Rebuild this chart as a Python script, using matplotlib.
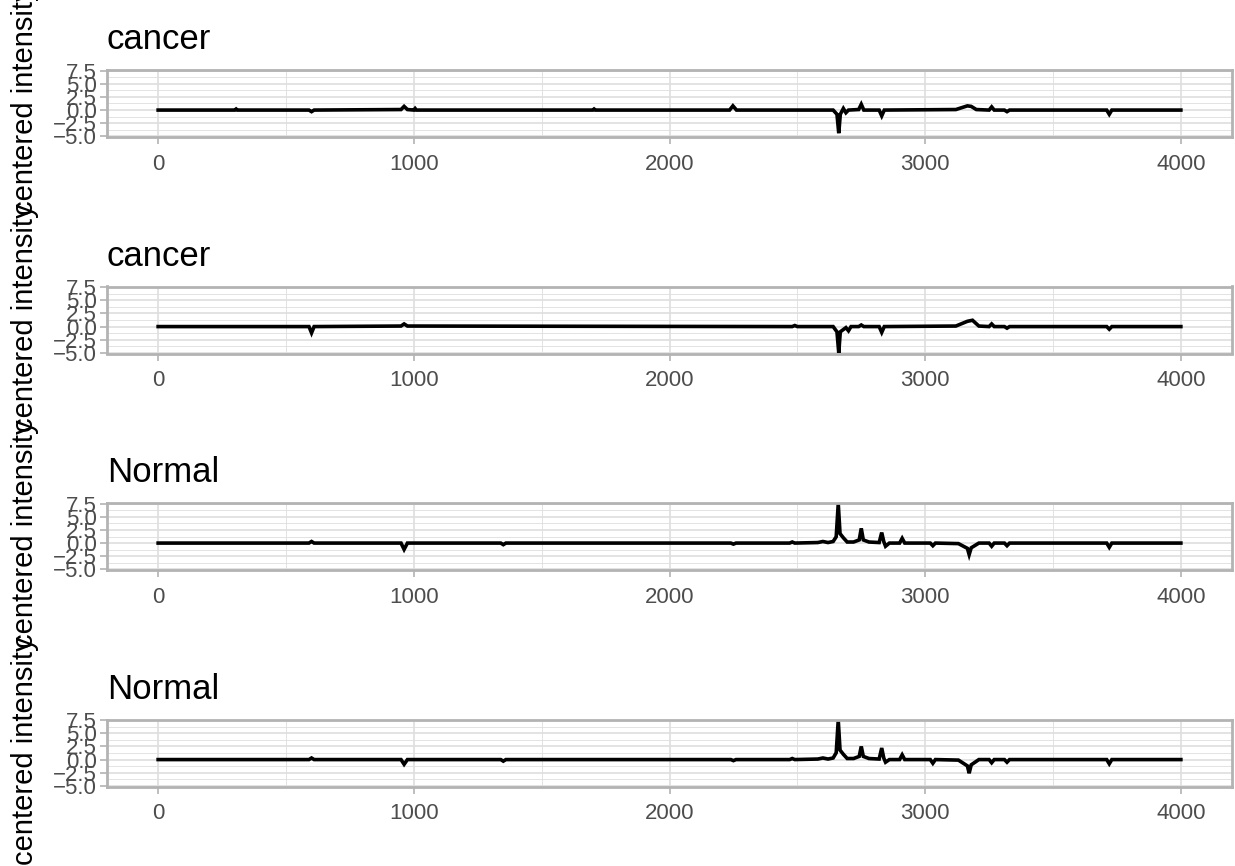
import matplotlib.pyplot as plt
from matplotlib.ticker import MultipleLocator

# titles of the four spectra
titulos = ["cancer", "cancer", "Normal", "Normal"]

# spectrum 1 (cancer)
x1 = [0, 300, 305, 310, 590, 600, 610, 950, 962, 975, 1000, 1005, 1010, 1700, 1705, 1710,
      2235, 2248, 2262, 2640, 2655, 2662, 2668, 2680, 2690, 2700, 2740, 2750, 2760,
      2820, 2830, 2840, 3120, 3165, 3180, 3200, 3250, 3260, 3270, 3310, 3320, 3330,
      3710, 3720, 3730, 4000]
y1 = [0, 0, 0.2, 0, 0, -0.3, 0, 0.1, 0.7, 0.1, 0, 0.3, 0, 0, 0.2, 0,
      0, 0.8, 0, 0, -0.8, -4.4, -0.8, 0.3, -0.5, 0, 0.1, 1.1, 0, 0,
      -1.1, 0, 0.1, 0.8, 0.7, 0.1, 0, 0.6, 0, 0, -0.3, 0,
      0, -0.8, 0, 0]

# spectrum 2 (cancer)
x2 = [0, 590, 600, 610, 950, 962, 975, 2480, 2490, 2500, 2640, 2655, 2662, 2668, 2690, 2700,
      2710, 2740, 2750, 2760, 2820, 2830, 2840, 3120, 3165, 3185, 3210, 3250, 3260, 3270,
      3310, 3320, 3330, 3710, 3720, 3730, 4000]
y2 = [0, 0, -1.2, 0, 0.1, 0.5, 0.1, 0, 0.2, 0, 0, -1.0, -5.0, -1.0, -0.2, -0.8,
      0, 0, 0.3, 0, 0, -1.1, 0, 0.1, 1.0, 1.2, 0.1, 0, 0.5, 0,
      0, -0.3, 0, 0, -0.5, 0, 0]

# spectrum 3 (Normal)
x3 = [0, 590, 600, 610, 950, 962, 975, 1340, 1350, 1360, 2240, 2250, 2260, 2470, 2480, 2490,
      2580, 2600, 2620, 2640, 2652, 2660, 2667, 2680, 2695, 2720, 2742, 2750, 2758, 2780,
      2820, 2830, 2838, 2845, 2860, 2900, 2910, 2920, 3020, 3030, 3040, 3130, 3165, 3172,
      3180, 3210, 3250, 3260, 3270, 3310, 3320, 3330, 3710, 3720, 3730, 4000]
y3 = [0, 0, 0.3, 0, 0, -1.2, 0, 0, -0.3, 0, 0, -0.2, 0, 0, 0.2, 0,
      0.1, 0.3, 0.1, 0.3, 1.2, 7.5, 1.8, 1.0, 0.2, 0.2, 0.6, 2.8, 0.6, 0.2,
      0.1, 2.0, 0.3, -0.6, 0, 0, 0.9, 0, 0, -0.5, 0, -0.1, -1.0, -2.2,
      -0.9, 0, 0, -0.6, 0, 0, -0.5, 0, 0, -0.8, 0, 0]

# spectrum 4 (Normal)
x4 = [0, 590, 600, 610, 950, 962, 975, 1340, 1350, 1360, 2240, 2250, 2260, 2470, 2480, 2490,
      2580, 2600, 2620, 2640, 2652, 2660, 2667, 2680, 2695, 2720, 2742, 2750, 2758, 2780,
      2820, 2830, 2838, 2845, 2860, 2900, 2910, 2920, 3020, 3030, 3040, 3130, 3165, 3172,
      3180, 3210, 3250, 3260, 3270, 3310, 3320, 3330, 3710, 3720, 3730, 4000]
y4 = [0, 0, 0.3, 0, 0, -0.9, 0, 0, -0.3, 0, 0, -0.2, 0, 0, 0.2, 0,
      0.1, 0.3, 0.1, 0.3, 1.3, 7.5, 1.8, 1.0, 0.2, 0.2, 0.6, 2.5, 0.6, 0.2,
      0.1, 2.2, 0.3, -0.5, 0, 0, 0.9, 0, 0, -0.7, 0, -0.1, -1.2, -2.6,
      -1.0, 0, 0, -0.6, 0, 0, -0.5, 0, 0, -0.8, 0, 0]

xs = [x1, x2, x3, x4]
ys = [y1, y2, y3, y4]

plt.rcParams['font.family'] = ['Liberation Sans', 'DejaVu Sans']

W, H = 1235, 866
fig = plt.figure(figsize=(W / 100, H / 100), dpi=100)

for i in range(4):
    topo = 70 + 216.5 * i
    ax = fig.add_axes([107 / W, 1 - (topo + 67) / H, (1232 - 107) / W, 67 / H])
    ax.plot(xs[i], ys[i], color="black", lw=2.6, solid_joinstyle="miter")
    ax.set_xlim(-200, 4200)
    ax.set_ylim(-5.12, 7.62)
    ax.xaxis.set_major_locator(MultipleLocator(1000))
    ax.xaxis.set_minor_locator(MultipleLocator(500))
    ax.yaxis.set_minor_locator(MultipleLocator(1.25))
    ax.set_yticks([-5, -2.5, 0, 2.5, 5, 7.5])
    ax.set_yticklabels(["\u22125.0", "\u22122.5", "0.0", "2.5", "5.0", "7.5"])
    ax.grid(which="major", color="#DEDEDE", lw=1.2)
    ax.grid(which="minor", color="#DEDEDE", lw=0.6)
    ax.set_axisbelow(True)
    for s in ax.spines.values():
        s.set_color("#B3B3B3")
        s.set_linewidth(2)
    ax.tick_params(which="major", length=5, width=1.2, color="#B3B3B3",
                   labelsize=16, labelcolor="#4D4D4D")
    ax.tick_params(axis="x", pad=7)
    ax.tick_params(axis="y", pad=2.5)
    ax.tick_params(which="minor", length=0)
    ax.set_title(titulos[i], loc="left", fontsize=25, pad=15)
    # rotulo do eixo y, centrado no painel
    fig.text(25 / W, 1 - (topo + 31) / H, "centered intensity", rotation=90,
             ha="center", va="center", fontsize=21)

fig.savefig("out.png", dpi=100)
